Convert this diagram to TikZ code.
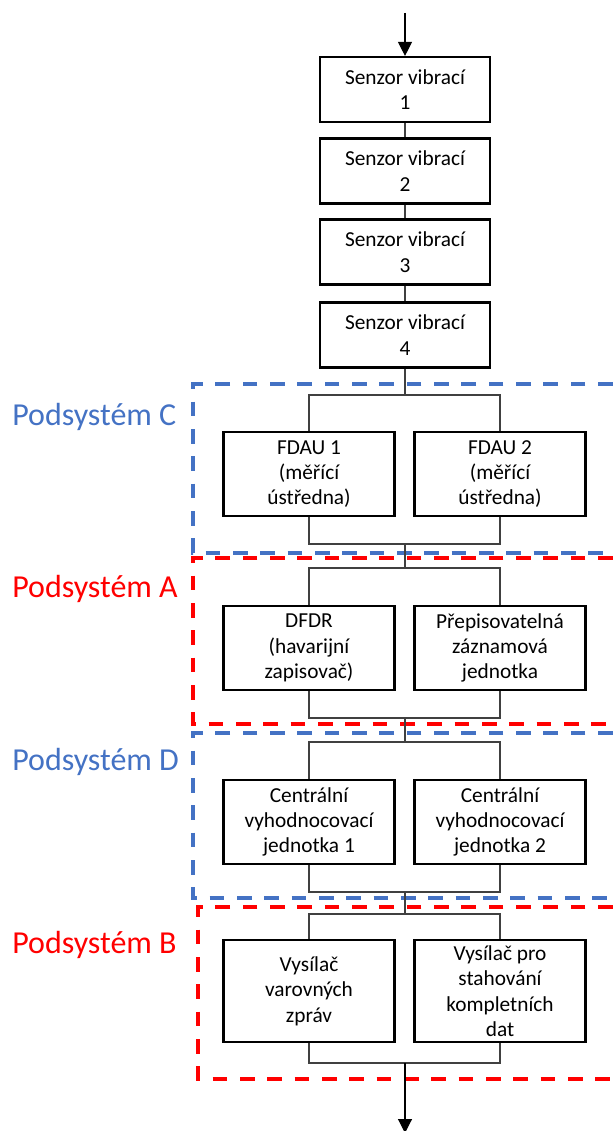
\documentclass[tikz,border=0pt]{standalone}
\usepackage{fontspec}
\setmainfont{Carlito}
\usetikzlibrary{arrows.meta}
\definecolor{subblue}{HTML}{4472C4}
\definecolor{subred}{HTML}{FF0000}

\begin{document}
\begin{tikzpicture}[x=0.75pt,y=-0.75pt,
  blockbox/.style={draw=black, line width=1.6pt, fill=white, align=center,
    inner sep=0pt, font=\fontsize{16}{19}\selectfont},
  sensorbox/.style={blockbox, minimum width=127.5pt, minimum height=48.75pt},
  unitbox/.style={blockbox, minimum width=128.25pt, minimum height=63.5pt},
  tallbox/.style={blockbox, minimum width=128.25pt, minimum height=76.5pt},
  link/.style={draw=black!75, line width=0.8pt},
  flow/.style={link, draw=black, -{Triangle[width=10.5pt,length=10.5pt]}},
  group/.style={line width=2.3pt, dash pattern=on 11pt off 9.5pt},
  grouplabel/.style={anchor=base west, inner sep=0pt, font=\fontsize{24}{28}\selectfont},
]
\useasboundingbox (0,0) rectangle (614,1131);

% subsystem frames (open to the right)
\draw[group, subblue] (640,384) -- (193,384) -- (193,553) -- (640,553);
\draw[group, subred]  (640,558) -- (193,558) -- (193,724) -- (640,724);
\draw[group, subblue] (640,733) -- (193,733) -- (193,898) -- (640,898);
\draw[group, subred]  (640,907) -- (198,907) -- (198,1079) -- (640,1079);

% subsystem labels
\node[grouplabel, text=subblue] (lc) at (12,425) {Podsystém C};
\node[grouplabel, text=subred]  (la) at (12,597) {Podsystém A};
\node[grouplabel, text=subblue] (ld) at (12,770) {Podsystém D};
\node[grouplabel, text=subred]  (lb) at (12,953) {Podsystém B};

% sensor chain
\node[sensorbox] (s1) at (405,89.5) {Senzor vibrací\\1};
\node[sensorbox] (s2) at (405,171)  {Senzor vibrací\\2};
\node[sensorbox] (s3) at (405,252)  {Senzor vibrací\\3};
\node[sensorbox] (s4) at (405,335)  {Senzor vibrací\\4};

% paired units
\node[unitbox] (fd1) at (309,474) {FDAU 1\\(měřící\\ústředna)};
\node[unitbox] (fd2) at (500,474) {FDAU 2\\(měřící\\ústředna)};
\node[unitbox] (rec1) at (309,648) {DFDR\\(havarijní\\zapisovač)};
\node[unitbox] (rec2) at (500,648) {Přepisovatelná\\záznamová\\jednotka};
\node[unitbox] (cu1) at (309,822) {Centrální\\vyhodnocovací\\jednotka 1};
\node[unitbox] (cu2) at (500,822) {Centrální\\vyhodnocovací\\jednotka 2};
\node[tallbox] (tx1) at (309,991) {Vysílač\\varovných\\zpráv};
\node[tallbox] (tx2) at (500,991) {Vysílač pro\\stahování\\kompletních\\dat};

% branch and merge points
\coordinate (in)  at (405,13);
\coordinate (sp1) at (405,395);
\coordinate (mg1) at (405,544);
\coordinate (sp2) at (405,568);
\coordinate (mg2) at (405,718);
\coordinate (sp3) at (405,742);
\coordinate (mg3) at (405,892);
\coordinate (sp4) at (405,914);
\coordinate (mg4) at (405,1063);
\coordinate (out) at (405,1133);

% connectors
\draw[flow] (in) -- (s1);
\draw[link] (s1) -- (s2);
\draw[link] (s2) -- (s3);
\draw[link] (s3) -- (s4);
\draw[link] (s4) -- (sp1);
\draw[link] (fd1.north) |- (sp1) -| (fd2.north);
\draw[link] (fd1.south) |- (mg1) -| (fd2.south);
\draw[link] (mg1) -- (sp2);
\draw[link] (rec1.north) |- (sp2) -| (rec2.north);
\draw[link] (rec1.south) |- (mg2) -| (rec2.south);
\draw[link] (mg2) -- (sp3);
\draw[link] (cu1.north) |- (sp3) -| (cu2.north);
\draw[link] (cu1.south) |- (mg3) -| (cu2.south);
\draw[link] (mg3) -- (sp4);
\draw[link] (tx1.north) |- (sp4) -| (tx2.north);
\draw[link] (tx1.south) |- (mg4) -| (tx2.south);
\draw[flow] (mg4) -- (out);
\end{tikzpicture}
\end{document}
